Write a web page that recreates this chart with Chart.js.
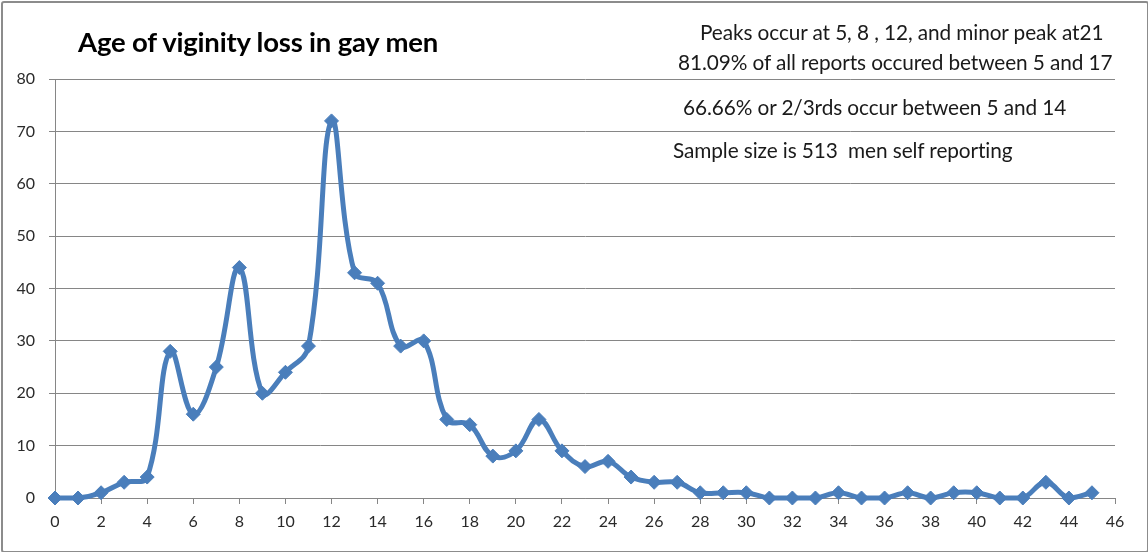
<!DOCTYPE html>
<html>
<head>
<meta charset="utf-8">
<script src="https://cdn.jsdelivr.net/npm/chart.js@4.4.1/dist/chart.umd.min.js"></script>
<style>
  html, body { margin: 0; padding: 0; background: #ffffff; }
  #wrap { position: relative; width: 1148px; height: 552px; overflow: hidden; background: #fff; }
  #c { position: absolute; left: 0; top: 0; }
  #frame { position: absolute; left: 1px; top: 1px; width: 1144px; height: 548px; border: 2px solid #8c8c8c; border-radius: 3px; pointer-events: none; }
  .t { position: absolute; white-space: pre; color: #111; font-family: Lato, "Open Sans", sans-serif; }
  #title { left: 78px; top: 25px; font-size: 27.5px; font-weight: bold; line-height: 34px; color: #000; letter-spacing: -0.2px; }
  .note { font-size: 20.8px; line-height: 26px; color: #1a1a1a; letter-spacing: -0.1px; }
</style>
</head>
<body>
<div id="wrap">
  <canvas id="c" width="1148" height="552"></canvas>
  <div id="title" class="t">Age of viginity loss in gay men</div>
  <div class="t note" style="left:700px; top:19px;">Peaks occur at 5, 8 , 12, and minor peak at21</div>
  <div class="t note" style="left:678px; top:49px;">81.09% of all reports occured between 5 and 17</div>
  <div class="t note" style="left:683px; top:94px;">66.66% or 2/3rds occur between 5 and 14</div>
  <div class="t note" style="left:673px; top:137px;">Sample size is 513  men self reporting</div>
  <div id="frame"></div>
</div>
<script>
// Data
const ages = [0,1,2,3,4,5,6,7,8,9,10,11,12,13,14,15,16,17,18,19,20,21,22,23,24,25,26,27,28,29,30,31,32,33,34,35,36,37,38,39,40,41,42,43,44,45];
const reports = [0,0,1,3,4,28,16,25,44,20,24,29,72,43,41,29,30,15,14,8,9,15,9,6,7,4,3,3,1,1,1,0,0,0,1,0,0,1,0,1,1,0,0,3,0,1];
const xTickStep = 2;
const yTickStep = 10;

const points = ages.map((a, i) => ({ x: a, y: reports[i] }));
const gridGray = '#868686';
const lineBlue = '#4a7ebb';

new Chart(document.getElementById('c'), {
  type: 'line',
  data: {
    datasets: [{
      data: points,
      borderColor: lineBlue,
      backgroundColor: lineBlue,
      borderWidth: 5,
      tension: 0.4,
      pointStyle: 'rectRot',
      pointRadius: 7,
      pointHoverRadius: 7,
      pointBorderWidth: 1,
      pointBorderColor: lineBlue,
      pointBackgroundColor: lineBlue,
      clip: false,
      fill: false
    }]
  },
  options: {
    responsive: false,
    animation: false,
    events: [],
    layout: { padding: { left: 0, top: 79, right: 33, bottom: 0 } },
    plugins: { legend: { display: false }, tooltip: { enabled: false }, title: { display: false } },
    scales: {
      x: {
        type: 'linear',
        min: 0, max: 46,
        ticks: { stepSize: xTickStep, color: '#2a2a2a', font: { family: 'Lato', size: 16 }, padding: 8, maxRotation: 0, autoSkip: false },
        grid: { drawOnChartArea: false, drawTicks: true, tickLength: 6, color: gridGray, lineWidth: 1 },
        border: { color: gridGray, width: 1 },
        afterFit: (s) => { s.height = 54; }
      },
      y: {
        min: 0, max: 80,
        ticks: { stepSize: yTickStep, color: '#2a2a2a', font: { family: 'Lato', size: 16 }, padding: 14 },
        grid: { drawOnChartArea: true, drawTicks: true, tickLength: 6, color: gridGray, lineWidth: 1 },
        border: { color: gridGray, width: 1 },
        afterFit: (s) => { s.width = 55; }
      }
    }
  }
});
</script>
</body>
</html>
